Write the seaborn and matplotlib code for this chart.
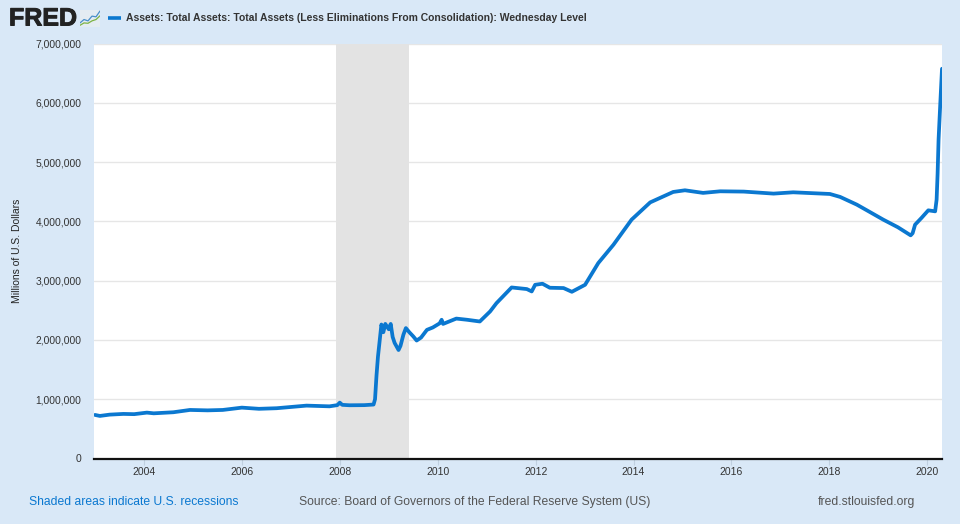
import numpy as np
import pandas as pd
import seaborn as sns
import matplotlib.pyplot as plt
import matplotlib.patheffects as pe
from matplotlib.lines import Line2D

years = [2003.0, 2003.1, 2003.3, 2003.58, 2003.8, 2004.06, 2004.2, 2004.6, 2004.94, 2005.3, 2005.61, 2006.0,
         2006.35, 2006.71, 2007.32, 2007.79, 2007.95, 2008.0, 2008.05, 2008.2, 2008.5, 2008.69, 2008.72,
         2008.75, 2008.78, 2008.81, 2008.85, 2008.89, 2008.93, 2009.0, 2009.04, 2009.08, 2009.12, 2009.2,
         2009.24, 2009.3, 2009.35, 2009.42, 2009.5, 2009.57, 2009.66, 2009.78, 2009.9, 2010.04,
         2010.08, 2010.11, 2010.38, 2010.6, 2010.86, 2011.07, 2011.2, 2011.51, 2011.82, 2011.92, 2011.99,
         2012.14, 2012.29, 2012.57, 2012.74, 2013.01, 2013.28, 2013.59, 2013.96, 2014.34, 2014.54, 2014.81,
         2015.05, 2015.42, 2015.77, 2016.25, 2016.86, 2017.26, 2018.01, 2018.22, 2018.56, 2018.8,
         2019.1, 2019.4, 2019.66, 2019.7, 2019.75, 2019.88, 2020.02, 2020.16, 2020.19, 2020.21, 2020.23,
         2020.26, 2020.3]
assets = [735, 718, 740, 752, 748, 774, 762, 780, 819, 812, 819, 858,
          838, 848, 892, 880, 900, 942, 905, 898, 900, 910, 1000,
          1400, 1720, 1950, 2260, 2130, 2270, 2180, 2270, 2050, 1950, 1830,
          1900, 2090, 2200, 2130, 2060, 1990, 2040, 2170, 2210, 2280,
          2340, 2270, 2360, 2340, 2311, 2480, 2620, 2885, 2858, 2818, 2930,
          2948, 2880, 2875, 2812, 2930, 3297, 3606, 4029, 4320, 4395, 4496,
          4524, 4480, 4507, 4502, 4468, 4490, 4462, 4412, 4282, 4170,
          4029, 3900, 3764, 3800, 3944, 4057, 4186, 4169, 4367, 4800, 5380,
          5900, 6574]
recession = [2007.92, 2009.42]
y_ticks = [0, 1000000, 2000000, 3000000, 4000000, 5000000, 6000000, 7000000]
x_ticks = list(range(2004, 2021, 2))

BG = "#d9e8f7"
BLUE = "#0b78d0"

sns.set_theme(style="white")
plt.rcParams["font.family"] = ["Liberation Sans", "DejaVu Sans"]

df = pd.DataFrame({"year": years, "assets": np.array(assets) * 1000})

fig = plt.figure(figsize=(9.6, 5.24), dpi=100, facecolor=BG)
ax = fig.add_axes([94 / 960, 1 - 458.5 / 524, 848 / 960, 415 / 524])

ax.axvspan(recession[0], recession[1], color="#e3e3e3", lw=0, zorder=1)
sns.lineplot(data=df, x="year", y="assets", color=BLUE, lw=2.7, estimator=None, ax=ax, zorder=3,
             solid_joinstyle="round")

ax.set_xlim(2002.98, 2020.3)
ax.set_ylim(0, 7000000)
ax.set_xticks(x_ticks)
ax.set_yticks(y_ticks)
ax.yaxis.set_major_formatter(lambda v, p: f"{int(v):,}")
ax.grid(axis="y", color="#e6e6e6", lw=1)
ax.set_axisbelow(True)
ax.set_xlabel("")
ax.set_ylabel("")
ax.tick_params(axis="y", labelsize=7.4, labelcolor="#333333", length=0, pad=9)
ax.tick_params(axis="x", labelsize=7.5, labelcolor="#333333", length=4, width=0.8, color="#c0d0e0",
               bottom=True, pad=2)
for side in ["top", "right", "left"]:
    ax.spines[side].set_visible(False)
ax.spines["bottom"].set_color("#111111")
ax.spines["bottom"].set_linewidth(1.6)
ax.spines["bottom"].set_zorder(4)

fig.text(17 / 960, 1 - 251 / 524, "Millions of U.S. Dollars", fontsize=7.5, color="#222222", rotation=90,
         ha="center", va="center")

# header
fig.text(9 / 960, 1 - 18.5 / 524, "FRED", fontsize=18, fontweight="bold", color="#222222", va="center",
         path_effects=[pe.withStroke(linewidth=0.7, foreground="#222222")])
icon = fig.add_axes([80 / 960, 1 - 27 / 524, 20 / 960, 17 / 524], facecolor="#e4ecf2")
icon.plot([0, 1, 2, 3, 4, 5], [1.2, 2.2, 1.8, 3.2, 3, 4.7], color="#4a8fc9", lw=0.9)
icon.plot([0, 1, 2, 3, 4, 5], [0.5, 1.2, 1.1, 1.8, 2.2, 3.3], color="#7cb342", lw=0.9)
icon.set_xticks([])
icon.set_yticks([])
icon.set_xlim(0, 5)
icon.set_ylim(0, 5)
for s in icon.spines.values():
    s.set_visible(False)

fig.add_artist(Line2D([107.5 / 960, 121 / 960], [1 - 18 / 524] * 2, color=BLUE, lw=2.6, solid_capstyle="butt"))
fig.text(126 / 960, 1 - 18 / 524, "Assets: Total Assets: Total Assets (Less Eliminations From Consolidation): Wednesday Level",
         fontsize=7.5, fontweight="bold", color="#333333", va="center")

# footer
fig.text(29 / 960, 1 - 502 / 524, "Shaded areas indicate U.S. recessions", fontsize=8.75, color="#0b78d0", va="center")
fig.text(299 / 960, 1 - 502 / 524, "Source: Board of Governors of the Federal Reserve System (US)", fontsize=8.75,
         color="#555555", va="center")
fig.text(915 / 960, 1 - 502 / 524, "fred.stlouisfed.org", fontsize=8.75, color="#555555", va="center", ha="right")

fig.savefig("out.png", dpi=100, facecolor=BG)
